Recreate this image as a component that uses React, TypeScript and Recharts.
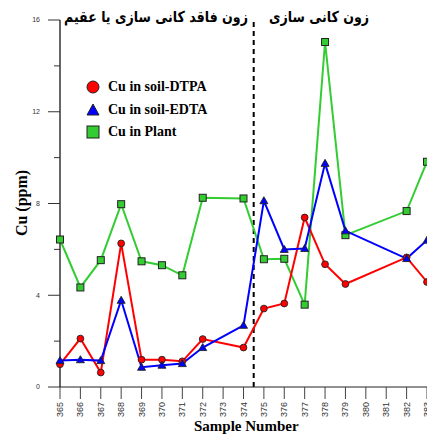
import React from 'react';
import { LineChart, Line, XAxis, YAxis, ReferenceLine } from 'recharts';

const samples = [365, 366, 367, 368, 369, 370, 371, 372, 373, 374, 375, 376, 377, 378, 379, 380, 381, 382, 383];
const dtpa = [0.99, 2.11, 0.63, 6.26, 1.19, 1.19, 1.12, 2.09, null, 1.72, 3.42, 3.64, 7.39, 5.35, 4.49, null, null, 5.65, 4.58];
const edta = [1.15, 1.19, 1.15, 3.78, 0.86, 0.95, 1.02, 1.72, null, 2.69, 8.12, 6.0, 6.04, 9.75, 6.81, null, null, 5.6, 6.4];
const plant = [6.43, 4.34, 5.53, 7.97, 5.48, 5.31, 4.87, 8.25, null, 8.22, 5.57, 5.59, 3.59, 15.04, 6.62, null, null, 7.67, 9.82];
const yTicks = [0, 2, 4, 6, 8, 10, 12, 14, 16];
const zoneBoundary = 374.5;
const titleLeft = 'زون فاقد کانی سازی یا عقیم';
const titleRight = 'زون کانی سازی';
const legendLabels = ['Cu in soil-DTPA', 'Cu in soil-EDTA', 'Cu in Plant'];

const data = samples.map((s, i) => ({ sample: s, dtpa: dtpa[i], edta: edta[i], plant: plant[i] }));

const RED = '#ff0000';
const BLUE = '#0000ff';
const GREEN = '#33cc33';

const YTick = (props: any) => {
  const { x, y, payload } = props;
  const major = payload.value % 4 === 0;
  return (
    <g>
      <line x1={x - (major ? 12 : 6)} x2={x} y1={y} y2={y} stroke="#333" strokeWidth={1} />
      {major && (
        <text x={x - 20} y={y} dy="0.35em" textAnchor="end" fontSize={7} fill="#333" fontFamily="Arial, 'Liberation Sans'">
          {payload.value}
        </text>
      )}
    </g>
  );
};

const XTick = (props: any) => {
  const { x, y, payload } = props;
  return (
    <g>
      <line x1={x} x2={x} y1={y} y2={y + 12} stroke="#444" strokeWidth={1} />
      <text
        transform={`translate(${x},${y + 15}) rotate(-90)`}
        textAnchor="end"
        dominantBaseline="central"
        fontSize={9}
        fill="#333"
        fontFamily="Arial, 'Liberation Sans'"
      >
        {payload.value}
      </text>
    </g>
  );
};

const CircleDot = (props: any) => {
  const { cx, cy, index } = props;
  if (cy == null || isNaN(cy)) return <g key={`c${index}`} />;
  return <circle key={`c${index}`} cx={cx} cy={cy} r={3.4} fill={RED} stroke="#222" strokeWidth={0.9} />;
};
const TriDot = (props: any) => {
  const { cx, cy, index } = props;
  if (cy == null || isNaN(cy)) return <g key={`t${index}`} />;
  return (
    <polygon
      key={`t${index}`}
      points={`${cx},${cy - 4} ${cx - 4},${cy + 3} ${cx + 4},${cy + 3}`}
      fill={BLUE}
      stroke="#222"
      strokeWidth={0.9}
    />
  );
};
const SqDot = (props: any) => {
  const { cx, cy, index } = props;
  if (cy == null || isNaN(cy)) return <g key={`s${index}`} />;
  return <rect key={`s${index}`} x={cx - 3.5} y={cy - 3.5} width={7} height={7} fill={GREEN} stroke="#222" strokeWidth={1} />;
};

const legendIcons = [
  <circle cx={7} cy={7} r={6} fill={RED} stroke="#222" strokeWidth={1} />,
  <polygon points="7,1 1,12 13,12" fill={BLUE} stroke="#222" strokeWidth={1} />,
  <rect x={1} y={1} width={12} height={12} fill={GREEN} stroke="#222" strokeWidth={1} />,
];
const legendY = [87, 109.5, 132];

const titleStyle: React.CSSProperties = {
  position: 'absolute',
  top: 0,
  left: 0,
  display: 'inline-block',
  direction: 'rtl',
  whiteSpace: 'nowrap',
  fontFamily: "'DejaVu Sans', Arial",
  fontWeight: 'bold',
  fontSize: 15,
  lineHeight: '20px',
  color: '#000',
  transformOrigin: 'center center',
};

export default function App() {
  return (
    <div style={{ position: 'absolute', left: 0, top: 0, width: 427, height: 435, background: '#fff', overflow: 'hidden' }}>
      <LineChart width={427} height={435} data={data} margin={{ top: 20, right: 0, bottom: 0, left: 0 }}>
        <XAxis
          dataKey="sample"
          type="number"
          domain={[365, 383]}
          ticks={samples}
          interval={0}
          height={48}
          tickSize={0}
          tickMargin={0}
          tickLine={false}
          tick={<XTick />}
          axisLine={{ stroke: '#222', strokeWidth: 1 }}
        />
        <YAxis
          type="number"
          domain={[0, 16]}
          ticks={yTicks}
          interval={0}
          width={60}
          tickSize={0}
          tickMargin={0}
          tickLine={false}
          tick={<YTick />}
          axisLine={{ stroke: '#000', strokeWidth: 1.2 }}
        />
        <ReferenceLine x={zoneBoundary} stroke="#000" strokeWidth={2} strokeDasharray="5 4" />
        <Line dataKey="plant" stroke={GREEN} strokeWidth={2} connectNulls dot={SqDot} isAnimationActive={false} />
        <Line dataKey="dtpa" stroke={RED} strokeWidth={2} connectNulls dot={CircleDot} isAnimationActive={false} />
        <Line dataKey="edta" stroke={BLUE} strokeWidth={2} connectNulls dot={TriDot} isAnimationActive={false} />
      </LineChart>

      <div style={{ position: 'absolute', left: 156, top: 7, width: 0, height: 0 }}>
        <span style={{ ...titleStyle, transform: 'translateX(-50%) scaleX(0.84)' }}>{titleLeft}</span>
      </div>
      <div style={{ position: 'absolute', left: 319, top: 7, width: 0, height: 0 }}>
        <span style={{ ...titleStyle, transform: 'translateX(-50%) scaleX(0.84)' }}>{titleRight}</span>
      </div>

      {legendLabels.map((lab, i) => (
        <div key={lab} style={{ position: 'absolute', left: 86, top: legendY[i] - 8, height: 16, display: 'flex', alignItems: 'center', whiteSpace: 'nowrap' }}>
          <svg width={14} height={14} style={{ display: 'block' }}>{legendIcons[i]}</svg>
          <span style={{ marginLeft: 8, fontFamily: "'Liberation Serif', 'Times New Roman', serif", fontWeight: 'bold', fontSize: 14, color: '#000' }}>{lab}</span>
        </div>
      ))}

      <div style={{ position: 'absolute', left: 22, top: 203, width: 0, height: 0 }}>
        <div style={{ position: 'absolute', transform: 'translate(-50%, -50%) rotate(-90deg)', whiteSpace: 'nowrap', fontFamily: "'Liberation Serif', 'Times New Roman', serif", fontWeight: 'bold', fontSize: 16, color: '#000' }}>
          Cu (ppm)
        </div>
      </div>

      <div style={{ position: 'absolute', left: 194, top: 417, whiteSpace: 'nowrap', fontFamily: "'Liberation Serif', 'Times New Roman', serif", fontWeight: 'bold', fontSize: 15, lineHeight: '18px', color: '#000' }}>
        Sample Number
      </div>
    </div>
  );
}
